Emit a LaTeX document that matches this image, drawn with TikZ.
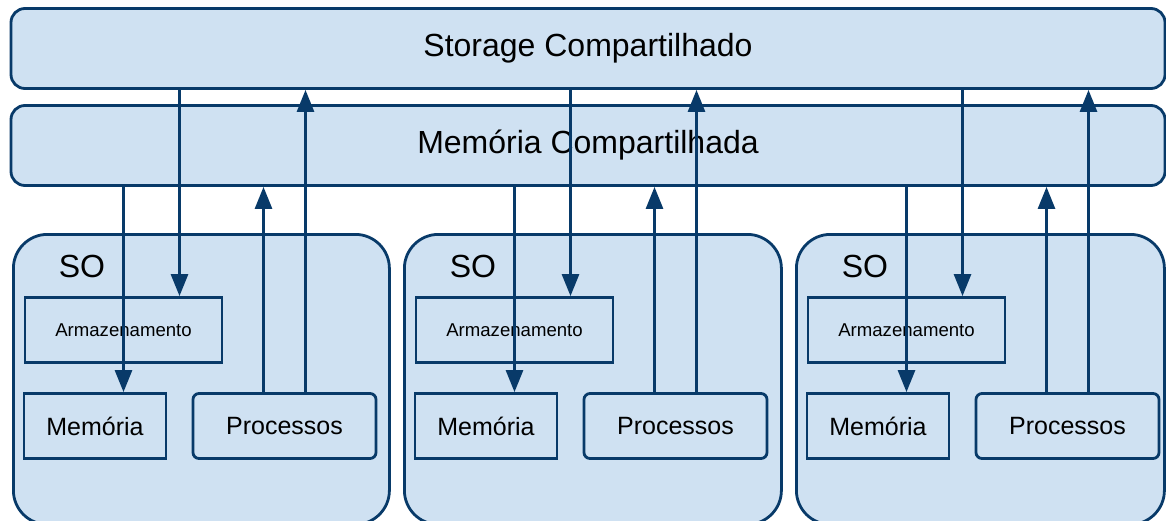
\documentclass[tikz,border=0pt]{standalone}
\usepackage{fontspec}
\setmainfont{Liberation Sans}
\usetikzlibrary{arrows.meta}
\definecolor{navy}{RGB}{8,58,105}
\definecolor{paleblue}{RGB}{207,225,242}

\begin{document}
\begin{tikzpicture}[x=0.5pt, y=-0.5pt,
    bar/.style={draw=navy, fill=paleblue, line width=1.4pt, rounded corners=7pt,
      minimum width=577pt, minimum height=40pt, font=\fontsize{16}{19}\selectfont},
    sobox/.style={draw=navy, fill=paleblue, line width=1.4pt, rounded corners=17pt,
      minimum height=145pt, anchor=north west},
    part/.style={draw=navy, fill=paleblue, line width=1.4pt, minimum height=32.5pt},
    flow/.style={navy, line width=1.4pt, -{Triangle[width=8.5pt,length=11pt]}}]
  \clip (0,0) rectangle (1166,520);
  \node[bar] (storage) at (588,48.5) {Storage Compartilhado};
  \node[bar] (memcomp) at (588,145.5) {Memória Compartilhada};
  \foreach \i/\dx/\w in {1/0/188, 2/391/188.5, 3/783/184} {
    \begin{scope}[shift={(\dx,0)}]
      \node[sobox, minimum width=\w pt] (so\i) at (12,233) {};
      \node[font=\fontsize{16}{19}\selectfont] (solabel\i) at (82,266.5) {SO};
      \node[part, minimum width=98.5pt, font=\fontsize{9.3}{11}\selectfont] (arm\i) at (123.5,330) {Armazenamento};
      \node[part, minimum width=71pt, font=\fontsize{12.5}{15}\selectfont] (mem\i) at (95,426) {Memória};
      \node[part, rounded corners=3pt, minimum width=91.5pt, font=\fontsize{12.5}{15}\selectfont] (proc\i) at (284.5,426) {Processos};
      % fluxo entre os niveis
      \draw[flow] (arm\i.north |- memcomp.south) -- (arm\i.center |- mem\i.north);
      \draw[flow] ([xshift=28pt]arm\i.north |- storage.south) -- ([xshift=28pt]arm\i.north);
      \draw[flow] ([xshift=-10.5pt]proc\i.north) -- ([xshift=-10.5pt]proc\i.north |- memcomp.south);
      \draw[flow] ([xshift=10.5pt]proc\i.north) -- ([xshift=10.5pt]proc\i.north |- storage.south);
    \end{scope}
  }
\end{tikzpicture}
\end{document}
